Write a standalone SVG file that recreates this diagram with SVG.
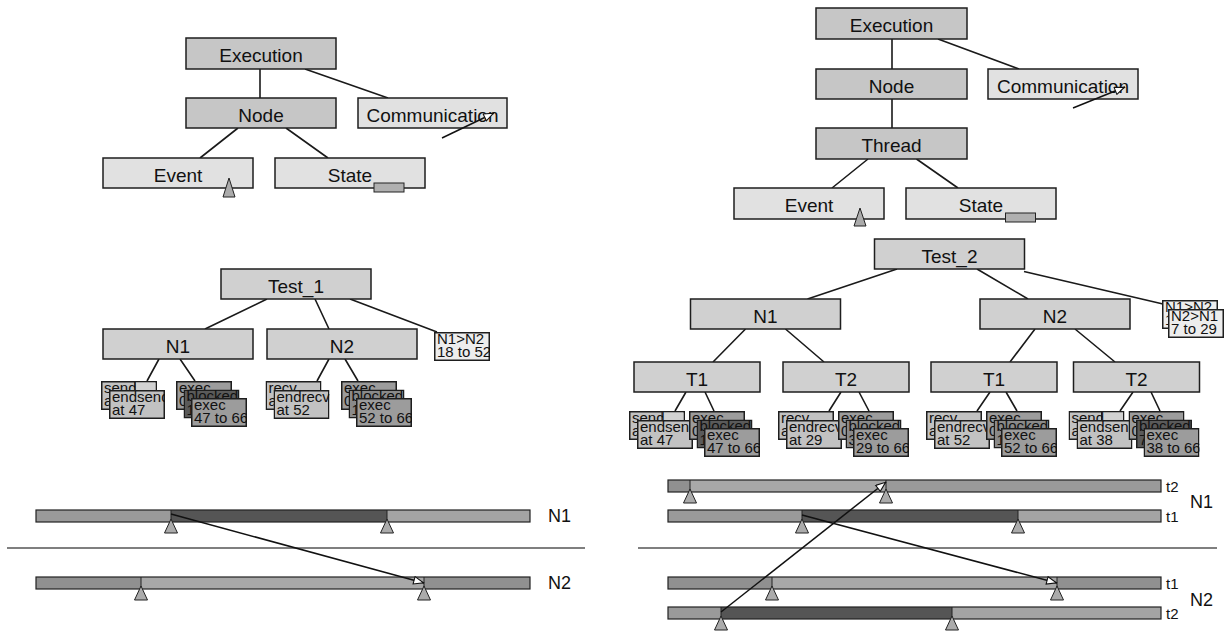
<svg xmlns="http://www.w3.org/2000/svg" width="1232" height="633" viewBox="0 0 1232 633">
<style>
.bx{stroke:#1e1e1e;stroke-width:1.5}
.d{fill:#c6c6c6}
.l{fill:#e1e1e1}
.t{fill:#d0d0d0}
.cm{fill:#ededed}
.ev{fill:#c2c2c2}
.evl{fill:#d2d2d2}
.ex{fill:#9c9c9c}
.bl{fill:#5a5a5a}
.bl2{fill:#8a8a8a}
.sb{stroke:#1e1e1e;stroke-width:1.5}
.lbl{font-family:"Liberation Sans",Arial,sans-serif;font-size:19px;text-anchor:middle;fill:#111}
.st{font-family:"Liberation Sans",Arial,sans-serif;font-size:15px;fill:#111}
.bt{font-family:"Liberation Sans",Arial,sans-serif;font-size:15px;fill:#111}
.bn{font-family:"Liberation Sans",Arial,sans-serif;font-size:18px;fill:#111}
.cn{stroke:#1a1a1a;stroke-width:1.6;fill:none}
.ar{stroke:#111;stroke-width:1.5;fill:none;marker-end:url(#ah)}
.tri{fill:#ababab;stroke:#222;stroke-width:1}
.ol{fill:none;stroke:#222;stroke-width:1.2}
.ml{stroke:#222;stroke-width:1}
.sep{stroke:#555;stroke-width:1.3}
.s1{fill:#9a9a9a}.s2{fill:#555555}.s3{fill:#a4a4a4}.s4{fill:#909090}.s5{fill:#a8a8a8}
</style>
<defs>
<marker id="ah" viewBox="0 0 12 10" refX="12" refY="5" markerWidth="12" markerHeight="9" markerUnits="userSpaceOnUse" orient="auto">
<path d="M0.6,0.8 L11.4,5 L0.6,9.2 z" fill="#fff" stroke="#111" stroke-width="1.2"/>
</marker>
</defs>
<rect width="1232" height="633" fill="#fff"/>

<g id="connectors">
<path class="cn" d="M260,69 L260,98 M305,69 L388,98 M238,128 L200,158 M286,128 L328,158"/>
<path class="cn" d="M892,39 L892,69 M938,39 L1019,69 M892,99 L892,128 M868,159 L832,188 M916.5,159 L958,188"/>
<path class="cn" d="M267,299 L205,329 M315,299 L329,329 M350,299 L437,332 M159,359 L147,381 M180,359 L195,381 M329,359 L317,381 M345,359 L358,381"/>
<path class="cn" d="M897,269 L807.5,299 M977,269 L1028,299 M1024,271.5 L1163,304 M745.5,329 L713,362 M785.5,329 L824,362 M1035,329 L1010,362 M1075,329 L1115,362"/>
<path class="cn" d="M686,392 L675,411 M705,392 L714,411 M841,392 L829,411 M859,392 L869,411 M990,392 L977,411 M1006,392 L1017,411 M1133,392 L1120,411 M1151,392 L1160,411"/>
</g>

<!-- Left schema tree -->
<g id="l-execution"><rect class="bx d" x="186" y="38" width="150" height="31"/><text class="lbl" x="261" y="62">Execution</text></g>
<g id="l-node"><rect class="bx d" x="186" y="98" width="150" height="30"/><text class="lbl" x="261" y="122">Node</text></g>
<g id="l-communication"><rect class="bx l" x="358" y="98" width="149" height="30"/><text class="lbl" x="432.5" y="122">Communication</text><line class="ar" x1="442" y1="138" x2="494" y2="113"/></g>
<g id="l-event"><rect class="bx l" x="103" y="158" width="150" height="30"/><text class="lbl" x="178" y="182">Event</text><polygon class="tri" points="229,178 223,197 235,197"/></g>
<g id="l-state"><rect class="bx l" x="275" y="158" width="150" height="30"/><text class="lbl" x="350" y="182">State</text><rect x="374" y="183" width="30" height="9" fill="#b0b0b0" stroke="#222" stroke-width="1"/></g>

<!-- Right schema tree -->
<g id="r-execution"><rect class="bx d" x="816" y="8" width="151" height="31"/><text class="lbl" x="891.5" y="32">Execution</text></g>
<g id="r-node"><rect class="bx d" x="816" y="69" width="151" height="30"/><text class="lbl" x="891.5" y="93">Node</text></g>
<g id="r-communication"><rect class="bx l" x="988" y="69" width="150" height="30"/><text class="lbl" x="1063" y="93">Communication</text><line class="ar" x1="1073" y1="108" x2="1125" y2="87"/></g>
<g id="r-thread"><rect class="bx d" x="816" y="128" width="151" height="31"/><text class="lbl" x="891.5" y="152">Thread</text></g>
<g id="r-event"><rect class="bx l" x="734" y="188" width="150" height="31"/><text class="lbl" x="809" y="212">Event</text><polygon class="tri" points="860,208 854,226 866,226"/></g>
<g id="r-state"><rect class="bx l" x="906" y="188" width="150" height="31"/><text class="lbl" x="981" y="212">State</text><rect x="1005.5" y="213" width="30" height="9" fill="#b0b0b0" stroke="#222" stroke-width="1"/></g>

<!-- Test_1 tree -->
<g id="test1"><rect class="bx t" x="221" y="269" width="150" height="30"/><text class="lbl" x="296" y="293">Test_1</text></g>
<g id="t1-n1"><rect class="bx t" x="103" y="329" width="150" height="30"/><text class="lbl" x="178" y="353">N1</text></g>
<g id="t1-n2"><rect class="bx t" x="267" y="329" width="150" height="30"/><text class="lbl" x="342" y="353">N2</text></g>
<g id="t1-comm"><svg x="434" y="332" width="56" height="29"><rect class="sb cm" x="0.75" y="0.75" width="54.5" height="27.5"/><text class="st" x="3" y="11.5">N1&gt;N2</text><text class="st" x="3" y="25">18 to 52</text></svg></g>
<g id="t1-n1-events">
<svg x="101" y="381" width="56" height="29"><rect class="sb ev" x="0.75" y="0.75" width="54.5" height="27.5"/><rect class="evl" x="34" y="1.5" width="20.5" height="8"/><line class="ml" x1="34" y1="0.75" x2="34" y2="9"/><text class="st" x="3" y="11.5">send</text><text class="st" x="3" y="25">at 18</text></svg>
<svg x="109" y="390" width="56" height="29"><rect class="sb ev" x="0.75" y="0.75" width="54.5" height="27.5"/><text class="st" x="3" y="11.5">endsend</text><text class="st" x="3" y="25">at 47</text></svg>
</g>
<g id="t1-n1-states">
<svg x="176" y="381" width="56" height="29"><rect class="sb ex" x="0.75" y="0.75" width="54.5" height="27.5"/><text class="st" x="3" y="11.5">exec</text><text class="st" x="3" y="25">0 to 18</text></svg>
<svg x="183.5" y="389.5" width="56" height="29"><rect class="sb bl" x="0.75" y="0.75" width="54.5" height="27.5"/><text class="st" x="3" y="11.5">blocked</text><text class="st" x="3" y="25">18 to 47</text></svg>
<svg x="191" y="398" width="56" height="29"><rect class="sb ex" x="0.75" y="0.75" width="54.5" height="27.5"/><text class="st" x="3" y="11.5">exec</text><text class="st" x="3" y="25">47 to 66</text></svg>
</g>
<g id="t1-n2-events">
<svg x="265.5" y="381" width="56" height="29"><rect class="sb ev" x="0.75" y="0.75" width="54.5" height="27.5"/><text class="st" x="3" y="11.5">recv</text><text class="st" x="3" y="25">at 14</text></svg>
<svg x="273.5" y="390" width="56" height="29"><rect class="sb ev" x="0.75" y="0.75" width="54.5" height="27.5"/><text class="st" x="3" y="11.5">endrecv</text><text class="st" x="3" y="25">at 52</text></svg>
</g>
<g id="t1-n2-states">
<svg x="341" y="381" width="56" height="29"><rect class="sb ex" x="0.75" y="0.75" width="54.5" height="27.5"/><text class="st" x="3" y="11.5">exec</text><text class="st" x="3" y="25">0 to 14</text></svg>
<svg x="348.5" y="389.5" width="56" height="29"><rect class="sb bl2" x="0.75" y="0.75" width="54.5" height="27.5"/><text class="st" x="3" y="11.5">blocked</text><text class="st" x="3" y="25">14 to 52</text></svg>
<svg x="356" y="398" width="56" height="29"><rect class="sb ex" x="0.75" y="0.75" width="54.5" height="27.5"/><text class="st" x="3" y="11.5">exec</text><text class="st" x="3" y="25">52 to 66</text></svg>
</g>

<!-- Test_2 tree -->
<g id="test2"><rect class="bx t" x="874.5" y="239" width="150" height="30"/><text class="lbl" x="949.5" y="263">Test_2</text></g>
<g id="t2-n1"><rect class="bx t" x="690.5" y="299" width="150" height="30"/><text class="lbl" x="765.5" y="323">N1</text></g>
<g id="t2-n2"><rect class="bx t" x="980" y="299" width="150" height="30"/><text class="lbl" x="1055" y="323">N2</text></g>
<g id="t2-comm">
<svg x="1162" y="300" width="56" height="29"><rect class="sb cm" x="0.75" y="0.75" width="54.5" height="27.5"/><text class="st" x="3" y="11.5">N1&gt;N2</text><text class="st" x="3" y="25">18 to 52</text></svg>
<svg x="1168" y="309" width="56" height="29"><rect class="sb cm" x="0.75" y="0.75" width="54.5" height="27.5"/><text class="st" x="3" y="11.5">N2&gt;N1</text><text class="st" x="3" y="25">7 to 29</text></svg>
</g>
<g id="t2-n1-t1"><rect class="bx t" x="634" y="362" width="126" height="30"/><text class="lbl" x="697" y="386">T1</text></g>
<g id="t2-n1-t2"><rect class="bx t" x="783" y="362" width="126" height="30"/><text class="lbl" x="846" y="386">T2</text></g>
<g id="t2-n2-t1"><rect class="bx t" x="931" y="362" width="126" height="30"/><text class="lbl" x="994" y="386">T1</text></g>
<g id="t2-n2-t2"><rect class="bx t" x="1073.5" y="362" width="126" height="30"/><text class="lbl" x="1136.5" y="386">T2</text></g>

<g id="n1t1-events">
<svg x="629" y="411" width="56" height="29"><rect class="sb ev" x="0.75" y="0.75" width="54.5" height="27.5"/><rect class="evl" x="33" y="1.5" width="21.5" height="8"/><line class="ml" x1="33" y1="0.75" x2="33" y2="9"/><text class="st" x="3" y="11.5">send</text><text class="st" x="3" y="25">at 18</text></svg>
<svg x="637" y="420" width="56" height="29"><rect class="sb ev" x="0.75" y="0.75" width="54.5" height="27.5"/><text class="st" x="3" y="11.5">endsend</text><text class="st" x="3" y="25">at 47</text></svg>
</g>
<g id="n1t1-states">
<svg x="689" y="411" width="56" height="29"><rect class="sb ex" x="0.75" y="0.75" width="54.5" height="27.5"/><text class="st" x="3" y="11.5">exec</text><text class="st" x="3" y="25">0 to 18</text></svg>
<svg x="696.5" y="419.5" width="56" height="29"><rect class="sb bl" x="0.75" y="0.75" width="54.5" height="27.5"/><text class="st" x="3" y="11.5">blocked</text><text class="st" x="3" y="25">18 to 47</text></svg>
<svg x="704" y="428" width="56" height="29"><rect class="sb ex" x="0.75" y="0.75" width="54.5" height="27.5"/><text class="st" x="3" y="11.5">exec</text><text class="st" x="3" y="25">47 to 66</text></svg>
</g>
<g id="n1t2-events">
<svg x="778" y="411" width="56" height="29"><rect class="sb ev" x="0.75" y="0.75" width="54.5" height="27.5"/><text class="st" x="3" y="11.5">recv</text><text class="st" x="3" y="25">at 3</text></svg>
<svg x="786" y="420" width="56" height="29"><rect class="sb ev" x="0.75" y="0.75" width="54.5" height="27.5"/><text class="st" x="3" y="11.5">endrecv</text><text class="st" x="3" y="25">at 29</text></svg>
</g>
<g id="n1t2-states">
<svg x="838" y="411" width="56" height="29"><rect class="sb ex" x="0.75" y="0.75" width="54.5" height="27.5"/><text class="st" x="3" y="11.5">exec</text><text class="st" x="3" y="25">0 to 3</text></svg>
<svg x="845.5" y="419.5" width="56" height="29"><rect class="sb bl2" x="0.75" y="0.75" width="54.5" height="27.5"/><text class="st" x="3" y="11.5">blocked</text><text class="st" x="3" y="25">3 to 29</text></svg>
<svg x="853" y="428" width="56" height="29"><rect class="sb ex" x="0.75" y="0.75" width="54.5" height="27.5"/><text class="st" x="3" y="11.5">exec</text><text class="st" x="3" y="25">29 to 66</text></svg>
</g>
<g id="n2t1-events">
<svg x="926" y="411" width="56" height="29"><rect class="sb ev" x="0.75" y="0.75" width="54.5" height="27.5"/><text class="st" x="3" y="11.5">recv</text><text class="st" x="3" y="25">at 14</text></svg>
<svg x="934" y="420" width="56" height="29"><rect class="sb ev" x="0.75" y="0.75" width="54.5" height="27.5"/><text class="st" x="3" y="11.5">endrecv</text><text class="st" x="3" y="25">at 52</text></svg>
</g>
<g id="n2t1-states">
<svg x="986" y="411" width="56" height="29"><rect class="sb ex" x="0.75" y="0.75" width="54.5" height="27.5"/><text class="st" x="3" y="11.5">exec</text><text class="st" x="3" y="25">0 to 14</text></svg>
<svg x="993.5" y="419.5" width="56" height="29"><rect class="sb bl2" x="0.75" y="0.75" width="54.5" height="27.5"/><text class="st" x="3" y="11.5">blocked</text><text class="st" x="3" y="25">14 to 52</text></svg>
<svg x="1001" y="428" width="56" height="29"><rect class="sb ex" x="0.75" y="0.75" width="54.5" height="27.5"/><text class="st" x="3" y="11.5">exec</text><text class="st" x="3" y="25">52 to 66</text></svg>
</g>
<g id="n2t2-events">
<svg x="1068.5" y="411" width="56" height="29"><rect class="sb ev" x="0.75" y="0.75" width="54.5" height="27.5"/><rect class="evl" x="33" y="1.5" width="21.5" height="8"/><line class="ml" x1="33" y1="0.75" x2="33" y2="9"/><text class="st" x="3" y="11.5">send</text><text class="st" x="3" y="25">at 7</text></svg>
<svg x="1076.5" y="420" width="56" height="29"><rect class="sb ev" x="0.75" y="0.75" width="54.5" height="27.5"/><text class="st" x="3" y="11.5">endsend</text><text class="st" x="3" y="25">at 38</text></svg>
</g>
<g id="n2t2-states">
<svg x="1128.5" y="411" width="56" height="29"><rect class="sb ex" x="0.75" y="0.75" width="54.5" height="27.5"/><text class="st" x="3" y="11.5">exec</text><text class="st" x="3" y="25">0 to 7</text></svg>
<svg x="1136" y="419.5" width="56" height="29"><rect class="sb bl" x="0.75" y="0.75" width="54.5" height="27.5"/><text class="st" x="3" y="11.5">blocked</text><text class="st" x="3" y="25">7 to 38</text></svg>
<svg x="1143.5" y="428" width="56" height="29"><rect class="sb ex" x="0.75" y="0.75" width="54.5" height="27.5"/><text class="st" x="3" y="11.5">exec</text><text class="st" x="3" y="25">38 to 66</text></svg>
</g>

<!-- Left timelines -->
<g id="timeline-left">
<rect class="s1" x="36" y="510" width="135" height="12"/><rect class="s2" x="171" y="510" width="216" height="12"/><rect class="s3" x="387" y="510" width="143" height="12"/>
<rect class="ol" x="36" y="510" width="494" height="12"/>
<line class="ml" x1="171" y1="510" x2="171" y2="520"/><polygon class="tri" points="171,519 164.5,533 177.5,533"/>
<line class="ml" x1="387" y1="510" x2="387" y2="520"/><polygon class="tri" points="387,519 380.5,533 393.5,533"/>
<text class="bn" x="548" y="522">N1</text>
<line class="sep" x1="7" y1="548" x2="585" y2="548"/>
<rect class="s4" x="36" y="577" width="105" height="12"/><rect class="s5" x="141" y="577" width="283" height="12"/><rect class="s4" x="424" y="577" width="106" height="12"/>
<rect class="ol" x="36" y="577" width="494" height="12"/>
<line class="ml" x1="141" y1="577" x2="141" y2="587"/><polygon class="tri" points="141,586 134.5,600 147.5,600"/>
<line class="ml" x1="424" y1="577" x2="424" y2="587"/><polygon class="tri" points="424,586 417.5,600 430.5,600"/>
<text class="bn" x="548" y="589">N2</text>
</g>

<!-- Right timelines -->
<g id="timeline-right">
<rect class="s4" x="668" y="480" width="22" height="12"/><rect class="s5" x="690" y="480" width="196" height="12"/><rect class="s1" x="886" y="480" width="275" height="12"/>
<rect class="ol" x="668" y="480" width="493" height="12"/>
<line class="ml" x1="690" y1="480" x2="690" y2="490"/><polygon class="tri" points="690,489 683.5,503 696.5,503"/>
<line class="ml" x1="886" y1="480" x2="886" y2="490"/><polygon class="tri" points="886,489 879.5,503 892.5,503"/>
<text class="bt" x="1166" y="492">t2</text>
<text class="bn" x="1190" y="508">N1</text>
<rect class="s1" x="668" y="510" width="134" height="12"/><rect class="s2" x="802" y="510" width="216" height="12"/><rect class="s3" x="1018" y="510" width="143" height="12"/>
<rect class="ol" x="668" y="510" width="493" height="12"/>
<line class="ml" x1="802" y1="510" x2="802" y2="520"/><polygon class="tri" points="802,519 795.5,533 808.5,533"/>
<line class="ml" x1="1018" y1="510" x2="1018" y2="520"/><polygon class="tri" points="1018,519 1011.5,533 1024.5,533"/>
<text class="bt" x="1166" y="522">t1</text>
<line class="sep" x1="638" y1="548" x2="1217" y2="548"/>
<rect class="s4" x="668" y="577" width="104" height="12"/><rect class="s5" x="772" y="577" width="285" height="12"/><rect class="s4" x="1057" y="577" width="104" height="12"/>
<rect class="ol" x="668" y="577" width="493" height="12"/>
<line class="ml" x1="772" y1="577" x2="772" y2="587"/><polygon class="tri" points="772,586 765.5,600 778.5,600"/>
<line class="ml" x1="1057" y1="577" x2="1057" y2="587"/><polygon class="tri" points="1057,586 1050.5,600 1063.5,600"/>
<text class="bt" x="1166" y="589">t1</text>
<text class="bn" x="1190" y="606">N2</text>
<rect class="s1" x="668" y="607" width="53" height="12"/><rect class="s2" x="721" y="607" width="231" height="12"/><rect class="s3" x="952" y="607" width="209" height="12"/>
<rect class="ol" x="668" y="607" width="493" height="12"/>
<line class="ml" x1="721" y1="607" x2="721" y2="617"/><polygon class="tri" points="721,616 714.5,630 727.5,630"/>
<line class="ml" x1="952" y1="607" x2="952" y2="617"/><polygon class="tri" points="952,616 945.5,630 958.5,630"/>
<text class="bt" x="1166" y="619">t2</text>
</g>

<g id="messages">
<line class="ar" x1="171" y1="514" x2="424" y2="583"/>
<line class="ar" x1="802" y1="515" x2="1057" y2="583"/>
<line class="ar" x1="721" y1="612" x2="886" y2="482"/>
</g>
</svg>
